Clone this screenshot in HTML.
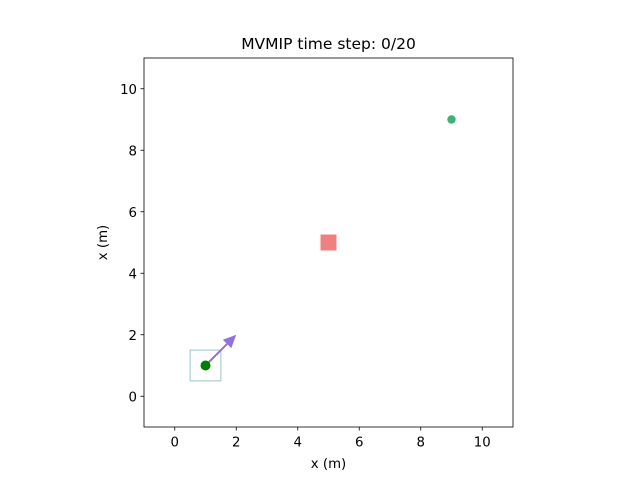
<!DOCTYPE html>
<html><head><meta charset="utf-8"><style>
body{margin:0;background:#fff}
svg text{font-family:"DejaVu Sans","Liberation Sans",sans-serif;fill:#000}
</style></head><body>
<svg id="chart" width="640" height="480">
<rect width="640" height="480" fill="#fff"/>
<text x="328.5" y="49" font-size="15.5" text-anchor="middle">MVMIP time step: 0/20</text>
<g id="ticks"></g>
<g id="marks"></g>
<rect x="144" y="58" width="369" height="369" fill="none" stroke="#000" stroke-width="0.8"/>
<text x="328.5" y="468" font-size="13.3" text-anchor="middle">x (m)</text>
<text transform="translate(107,242.5) rotate(-90)" font-size="13.3" text-anchor="middle">x (m)</text>
</svg>
<script>
const xTicks=[0,2,4,6,8,10];
const yTicks=[0,2,4,6,8,10];
const agentPos=[1,1];
const agentVel=[1,1];
const boxHalf=0.5;
const obstaclePos=[5,5];
const goalPos=[9,9];
const L=144,R=513,T=58,B=427,min=-1,max=11;
const sx=v=>L+(v-min)/(max-min)*(R-L);
const sy=v=>B-(v-min)/(max-min)*(B-T);
const NS='http://www.w3.org/2000/svg';
function mk(t,a,p){const e=document.createElementNS(NS,t);for(const k in a)e.setAttribute(k,a[k]);p.appendChild(e);return e;}
const tg=document.getElementById('ticks'),mg=document.getElementById('marks');
xTicks.forEach(v=>{
 const l=mk('line',{x1:sx(v),x2:sx(v),y1:B,y2:B+3.5,stroke:'#000','stroke-width':0.8},tg);
 
 
 const t=mk('text',{x:sx(v),y:B+19.5,'font-size':13.3,'text-anchor':'middle'},tg);t.textContent=v;
 
 
});
yTicks.forEach(v=>{
 const l=mk('line',{x1:L-3.5,x2:L,y1:sy(v),y2:sy(v),stroke:'#000','stroke-width':0.8},tg);
 
 
 const t=mk('text',{x:L-7,y:sy(v)+5,'font-size':13.3,'text-anchor':'end'},tg);t.textContent=v;
 
 
});
const bx=mk('rect',{x:sx(agentPos[0]-boxHalf),y:sy(agentPos[1]+boxHalf),width:sx(agentPos[0]+boxHalf)-sx(agentPos[0]-boxHalf),height:sy(agentPos[1]-boxHalf)-sy(agentPos[1]+boxHalf),fill:'none',stroke:'#9fc4c4','stroke-width':1},mg);


const ob=mk('rect',{x:sx(obstaclePos[0])-8,y:sy(obstaclePos[1])-8,width:16,height:16,fill:'#f08080'},mg);


const x1=sx(agentPos[0]),y1=sy(agentPos[1]),x2=sx(agentPos[0]+agentVel[0]),y2=sy(agentPos[1]+agentVel[1]);
const ang=Math.atan2(y2-y1,x2-x1),hl=13,hw=6;
const bxp=x2-hl*Math.cos(ang),byp=y2-hl*Math.sin(ang);
const ar=mk('line',{x1:x1,y1:y1,x2:bxp,y2:byp,stroke:'#9370db','stroke-width':2},mg);


const px=-Math.sin(ang),py=Math.cos(ang);
const hd=mk('polygon',{points:`${x2},${y2} ${bxp+hw*px},${byp+hw*py} ${bxp-hw*px},${byp-hw*py}`,fill:'#9370db'},mg);


const ag=mk('circle',{cx:x1,cy:y1,r:5,fill:'#008000'},mg);


const gl=mk('circle',{cx:sx(goalPos[0]),cy:sy(goalPos[1]),r:4.2,fill:'#3cb371'},mg);


</script>
</body></html>
